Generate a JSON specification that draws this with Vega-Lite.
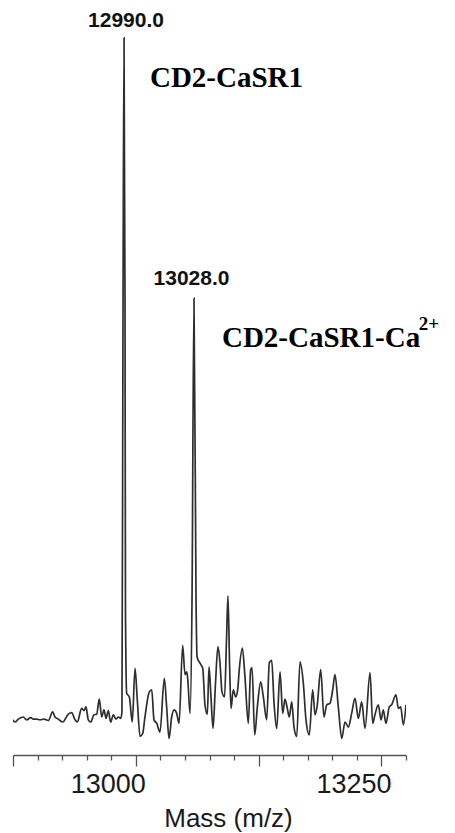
{
  "$schema": "https://vega.github.io/schema/vega-lite/v6.json",
  "autosize": {"type": "none"},
  "padding": {"left": 13, "top": 2, "right": 49, "bottom": 78},
  "width": 393,
  "height": 753,
  "background": "white",
  "config": {"view": {"stroke": null}},
  "datasets": {
    "spectrum": [
      {"mz": 12875.0, "intensity": 4.9}, {"mz": 12877.0, "intensity": 4.6}, {"mz": 12880.4, "intensity": 5.0},
      {"mz": 12885.5, "intensity": 5.3}, {"mz": 12888.9, "intensity": 4.9}, {"mz": 12893.0, "intensity": 5.2},
      {"mz": 12895.7, "intensity": 5.0}, {"mz": 12899.1, "intensity": 5.0}, {"mz": 12902.5, "intensity": 4.9},
      {"mz": 12906.6, "intensity": 5.0}, {"mz": 12910.9, "intensity": 4.8}, {"mz": 12915.4, "intensity": 6.0},
      {"mz": 12917.7, "intensity": 5.3}, {"mz": 12921.1, "intensity": 5.0}, {"mz": 12925.6, "intensity": 4.6},
      {"mz": 12931.3, "intensity": 5.7}, {"mz": 12934.7, "intensity": 5.9}, {"mz": 12938.1, "intensity": 4.9},
      {"mz": 12940.4, "intensity": 4.6}, {"mz": 12944.9, "intensity": 6.5}, {"mz": 12947.3, "intensity": 6.2},
      {"mz": 12949.3, "intensity": 6.7}, {"mz": 12951.6, "intensity": 4.9}, {"mz": 12954.1, "intensity": 4.6},
      {"mz": 12957.4, "intensity": 5.6}, {"mz": 12960.2, "intensity": 5.7}, {"mz": 12962.8, "intensity": 7.8},
      {"mz": 12965.3, "intensity": 5.3}, {"mz": 12967.6, "intensity": 6.3}, {"mz": 12969.7, "intensity": 5.1},
      {"mz": 12972.0, "intensity": 6.2}, {"mz": 12974.4, "intensity": 4.6}, {"mz": 12977.1, "intensity": 5.6},
      {"mz": 12979.8, "intensity": 5.0}, {"mz": 12982.2, "intensity": 5.3}, {"mz": 12984.6, "intensity": 5.1},
      {"mz": 12985.9, "intensity": 6.0}, {"mz": 12987.0, "intensity": 63.4}, {"mz": 12988.0, "intensity": 100.0},
      {"mz": 12989.0, "intensity": 63.4}, {"mz": 12989.5, "intensity": 19.8}, {"mz": 12990.7, "intensity": 8.6},
      {"mz": 12993.4, "intensity": 8.1}, {"mz": 12996.4, "intensity": 4.6}, {"mz": 12999.2, "intensity": 12.1},
      {"mz": 13001.5, "intensity": 7.7}, {"mz": 13004.3, "intensity": 2.6}, {"mz": 13007.0, "intensity": 3.0},
      {"mz": 13009.3, "intensity": 5.3}, {"mz": 13013.7, "intensity": 8.8}, {"mz": 13016.2, "intensity": 9.1},
      {"mz": 13018.5, "intensity": 4.9}, {"mz": 13021.3, "intensity": 4.4}, {"mz": 13024.6, "intensity": 3.2},
      {"mz": 13029.0, "intensity": 10.7}, {"mz": 13031.4, "intensity": 6.7}, {"mz": 13033.8, "intensity": 2.3},
      {"mz": 13036.5, "intensity": 5.3}, {"mz": 13038.9, "intensity": 6.3}, {"mz": 13041.6, "intensity": 5.8},
      {"mz": 13044.0, "intensity": 4.4}, {"mz": 13047.7, "intensity": 15.3}, {"mz": 13050.1, "intensity": 11.2},
      {"mz": 13051.8, "intensity": 11.6}, {"mz": 13052.8, "intensity": 10.7}, {"mz": 13055.2, "intensity": 5.8},
      {"mz": 13057.2, "intensity": 21.6}, {"mz": 13059.2, "intensity": 63.7}, {"mz": 13061.3, "intensity": 21.6},
      {"mz": 13062.3, "intensity": 13.7}, {"mz": 13065.3, "intensity": 12.8}, {"mz": 13068.1, "intensity": 12.1},
      {"mz": 13070.4, "intensity": 7.0}, {"mz": 13072.8, "intensity": 5.7}, {"mz": 13074.5, "intensity": 12.3},
      {"mz": 13076.5, "intensity": 8.1}, {"mz": 13078.6, "intensity": 3.7}, {"mz": 13081.1, "intensity": 10.0},
      {"mz": 13083.6, "intensity": 15.1}, {"mz": 13085.7, "intensity": 12.8}, {"mz": 13087.7, "intensity": 8.8},
      {"mz": 13090.3, "intensity": 8.1}, {"mz": 13092.3, "intensity": 16.0}, {"mz": 13093.8, "intensity": 22.2},
      {"mz": 13095.4, "intensity": 12.8}, {"mz": 13096.9, "intensity": 6.5}, {"mz": 13099.2, "intensity": 9.1},
      {"mz": 13101.7, "intensity": 8.1}, {"mz": 13103.7, "intensity": 9.1}, {"mz": 13105.3, "intensity": 11.9},
      {"mz": 13108.4, "intensity": 14.9}, {"mz": 13111.1, "intensity": 10.9}, {"mz": 13114.5, "intensity": 4.4},
      {"mz": 13116.9, "intensity": 11.9}, {"mz": 13118.3, "intensity": 12.2}, {"mz": 13121.0, "intensity": 2.8},
      {"mz": 13123.7, "intensity": 6.7}, {"mz": 13127.1, "intensity": 10.2}, {"mz": 13129.8, "intensity": 8.1},
      {"mz": 13133.2, "intensity": 4.9}, {"mz": 13135.9, "intensity": 12.9}, {"mz": 13138.3, "intensity": 13.2},
      {"mz": 13140.7, "intensity": 7.2}, {"mz": 13143.4, "intensity": 3.7}, {"mz": 13146.8, "intensity": 11.6},
      {"mz": 13149.5, "intensity": 5.8}, {"mz": 13151.8, "intensity": 7.8}, {"mz": 13154.2, "intensity": 6.5},
      {"mz": 13156.2, "intensity": 5.3}, {"mz": 13158.7, "intensity": 7.4}, {"mz": 13161.0, "intensity": 3.9},
      {"mz": 13163.8, "intensity": 2.6}, {"mz": 13167.1, "intensity": 13.0}, {"mz": 13170.5, "intensity": 10.0},
      {"mz": 13173.2, "intensity": 4.9}, {"mz": 13176.6, "intensity": 2.8}, {"mz": 13180.0, "intensity": 9.1},
      {"mz": 13182.4, "intensity": 5.6}, {"mz": 13184.7, "intensity": 7.0}, {"mz": 13188.2, "intensity": 11.9},
      {"mz": 13191.5, "intensity": 5.3}, {"mz": 13194.3, "intensity": 7.0}, {"mz": 13197.6, "intensity": 7.2},
      {"mz": 13200.4, "intensity": 9.1}, {"mz": 13202.7, "intensity": 11.2}, {"mz": 13206.1, "intensity": 6.7},
      {"mz": 13209.6, "intensity": 2.3}, {"mz": 13212.9, "intensity": 4.6}, {"mz": 13216.3, "intensity": 3.9},
      {"mz": 13219.7, "intensity": 5.8}, {"mz": 13223.1, "intensity": 7.9}, {"mz": 13226.5, "intensity": 5.1},
      {"mz": 13229.9, "intensity": 7.4}, {"mz": 13233.3, "intensity": 3.7}, {"mz": 13238.4, "intensity": 11.5},
      {"mz": 13241.1, "intensity": 4.4}, {"mz": 13243.4, "intensity": 5.6}, {"mz": 13246.8, "intensity": 7.0},
      {"mz": 13249.6, "intensity": 4.9}, {"mz": 13251.9, "intensity": 6.3}, {"mz": 13254.6, "intensity": 4.4},
      {"mz": 13258.0, "intensity": 6.7}, {"mz": 13260.4, "intensity": 7.0}, {"mz": 13264.8, "intensity": 8.4},
      {"mz": 13267.2, "intensity": 6.5}, {"mz": 13269.6, "intensity": 6.7}, {"mz": 13272.3, "intensity": 4.2},
      {"mz": 13275.0, "intensity": 7.0}
    ],
    "peakLabels": [
      {"mz": 12990.0, "intensity": 101.5, "label": "12990.0"},
      {"mz": 13056.7, "intensity": 65.5, "label": "13028.0"}
    ],
    "species": [
      {"mz": 13014.4, "intensity": 93.2, "label": "CD2-CaSR1"},
      {"mz": 13087.7, "intensity": 56.9, "label": "CD2-CaSR1-Ca"}
    ],
    "charge": [
      {"mz": 13288.0, "intensity": 59.3, "label": "2+"}
    ]
  },
  "layer": [
    {
      "data": {"name": "spectrum"},
      "mark": {"type": "line", "color": "#2e2e2e", "strokeWidth": 1.7, "interpolate": "monotone", "clip": true},
      "encoding": {
        "x": {
          "field": "mz", "type": "quantitative",
          "scale": {"domain": [12875, 13275], "nice": false, "zero": false},
          "axis": {
            "title": "Mass (m/z)",
            "values": [12875, 12900, 12925, 12950, 12975, 13000, 13025, 13050, 13075, 13100, 13125, 13150, 13175, 13200, 13225, 13250, 13275],
            "tickCount": 40,
            "labelExpr": "datum.value % 250 === 0 ? format(datum.value, 'd') : ''",
            "labelFont": "Liberation Sans", "labelFontSize": 27, "labelColor": "#1a1a1a",
            "labelOffset": -28, "labelPadding": 5, "labelOverlap": false, "labelFlush": false,
            "tickSize": {"condition": {"test": "datum.value % 125 === 0", "value": 11}, "value": 5},
            "tickColor": "#555555", "tickWidth": 1.3,
            "domainColor": "#555555", "domainWidth": 1.3,
            "grid": false,
            "titleFont": "Liberation Sans", "titleFontSize": 26, "titleFontWeight": "normal", "titleColor": "#1a1a1a",
            "titleX": 215, "titleY": 71, "titleBaseline": "alphabetic", "titleAlign": "center"
          }
        },
        "y": {
          "field": "intensity", "type": "quantitative",
          "scale": {"domain": [0, 105], "nice": false},
          "axis": null
        }
      }
    },
    {
      "data": {"name": "peakLabels"},
      "mark": {"type": "text", "font": "Liberation Sans", "fontSize": 21, "fontWeight": "bold", "color": "#111111", "align": "center", "baseline": "alphabetic"},
      "encoding": {
        "x": {"field": "mz", "type": "quantitative"},
        "y": {"field": "intensity", "type": "quantitative"},
        "text": {"field": "label"}
      }
    },
    {
      "data": {"name": "species"},
      "mark": {"type": "text", "font": "Liberation Serif", "fontSize": 29, "fontWeight": "bold", "color": "#000000", "align": "left", "baseline": "alphabetic"},
      "encoding": {
        "x": {"field": "mz", "type": "quantitative"},
        "y": {"field": "intensity", "type": "quantitative"},
        "text": {"field": "label"}
      }
    },
    {
      "data": {"name": "charge"},
      "mark": {"type": "text", "font": "Liberation Serif", "fontSize": 19, "fontWeight": "bold", "color": "#000000", "align": "left", "baseline": "alphabetic"},
      "encoding": {
        "x": {"field": "mz", "type": "quantitative"},
        "y": {"field": "intensity", "type": "quantitative"},
        "text": {"field": "label"}
      }
    }
  ]
}
